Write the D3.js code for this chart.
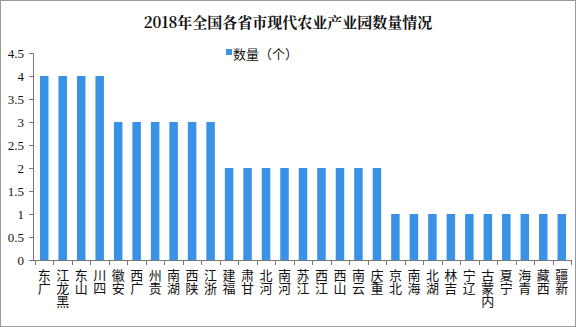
<!DOCTYPE html>
<html>
<head>
<meta charset="utf-8">
<title>2018年全国各省市现代农业产业园数量情况</title>
<script src="https://d3js.org/d3.v7.min.js"></script>
<style>
  html, body { margin: 0; padding: 0; background: #fff; }
  svg { display: block; }
  .title { font-family: "Noto Serif CJK SC", "Noto Sans CJK SC", serif; font-size: 15px; font-weight: bold; fill: #111; }
  .legend text, .xlab { font-family: "Noto Sans CJK SC", sans-serif; font-size: 13px; fill: #111; }
  .xlab { writing-mode: vertical-rl; text-orientation: upright; }
  .axis text { font-family: "Liberation Serif", serif; font-size: 13px; fill: #111; }
  .axis path, .axis line { stroke: #777; }
</style>
</head>
<body>
<svg width="576" height="327"></svg>
<script>
  var width = 576, height = 327;

  // data
  var provinces = ["广东", "黑龙江", "山东", "四川", "安徽", "广西", "贵州", "湖南", "陕西", "浙江",
    "福建", "甘肃", "河北", "河南", "江苏", "江西", "山西", "云南", "重庆",
    "北京", "海南", "湖北", "吉林", "辽宁", "内蒙古", "宁夏", "青海", "西藏", "新疆"];
  var counts = [4, 4, 4, 4, 3, 3, 3, 3, 3, 3,
    2, 2, 2, 2, 2, 2, 2, 2, 2,
    1, 1, 1, 1, 1, 1, 1, 1, 1, 1];
  var yTicks = [0, 0.5, 1, 1.5, 2, 2.5, 3, 3.5, 4, 4.5];

  var svg = d3.select("svg");

  // outer frame
  svg.append("rect")
    .attr("x", 0.5).attr("y", 0.5)
    .attr("width", width - 1).attr("height", height - 1)
    .attr("fill", "#fff").attr("stroke", "#9a9a9a");

  var x = d3.scaleBand().domain(provinces).range([35, 571]).paddingInner(0.54).paddingOuter(0.27);
  var y = d3.scaleLinear().domain([0, 4.5]).range([260, 53]);

  svg.append("text").attr("class", "title")
    .attr("x", 288).attr("y", 28).attr("text-anchor", "middle")
    .text("2018年全国各省市现代农业产业园数量情况");

  // legend
  var lg = svg.append("g").attr("class", "legend");
  lg.append("rect").attr("x", 226).attr("y", 49).attr("width", 6).attr("height", 6).attr("fill", "#3a92e6");
  lg.append("text").attr("x", 233).attr("y", 59).text("数量（个）");

  // bars
  svg.append("g").selectAll("rect")
    .data(counts)
    .join("rect")
    .attr("x", function(d, i) { return x(provinces[i]); })
    .attr("y", function(d) { return y(d); })
    .attr("width", x.bandwidth())
    .attr("height", function(d) { return y(0) - y(d); })
    .attr("fill", "#3a92e6");

  // y axis
  var yAxis = svg.append("g").attr("class", "axis")
    .attr("transform", "translate(33,0)")
    .call(d3.axisLeft(y).tickValues(yTicks).tickSize(4).tickSizeOuter(4).tickPadding(5)
      .tickFormat(function(d) { return d; }));
  yAxis.selectAll("text").attr("dy", "0.35em");

  // x axis line + ticks between bars
  var xa = svg.append("g").attr("class", "axis");
  xa.append("line").attr("x1", 33).attr("x2", 571).attr("y1", 260.5).attr("y2", 260.5);
  var step = x.step();
  xa.selectAll("line.tk")
    .data(d3.range(provinces.length + 1))
    .join("line").attr("class", "tk")
    .attr("x1", function(i) { return Math.round(x(provinces[0]) - step * 0.27 + i * step) + 0.5; })
    .attr("x2", function(i) { return Math.round(x(provinces[0]) - step * 0.27 + i * step) + 0.5; })
    .attr("y1", 260).attr("y2", 265);

  // vertical labels: characters stacked upright, read from bottom upwards
  svg.append("g").selectAll("text")
    .data(provinces)
    .join("text").attr("class", "xlab")
    .attr("x", function(p) { return x(p) + x.bandwidth() / 2; })
    .attr("y", 269)
    .text(function(p) { return p.split("").reverse().join(""); });
</script>
</body>
</html>
